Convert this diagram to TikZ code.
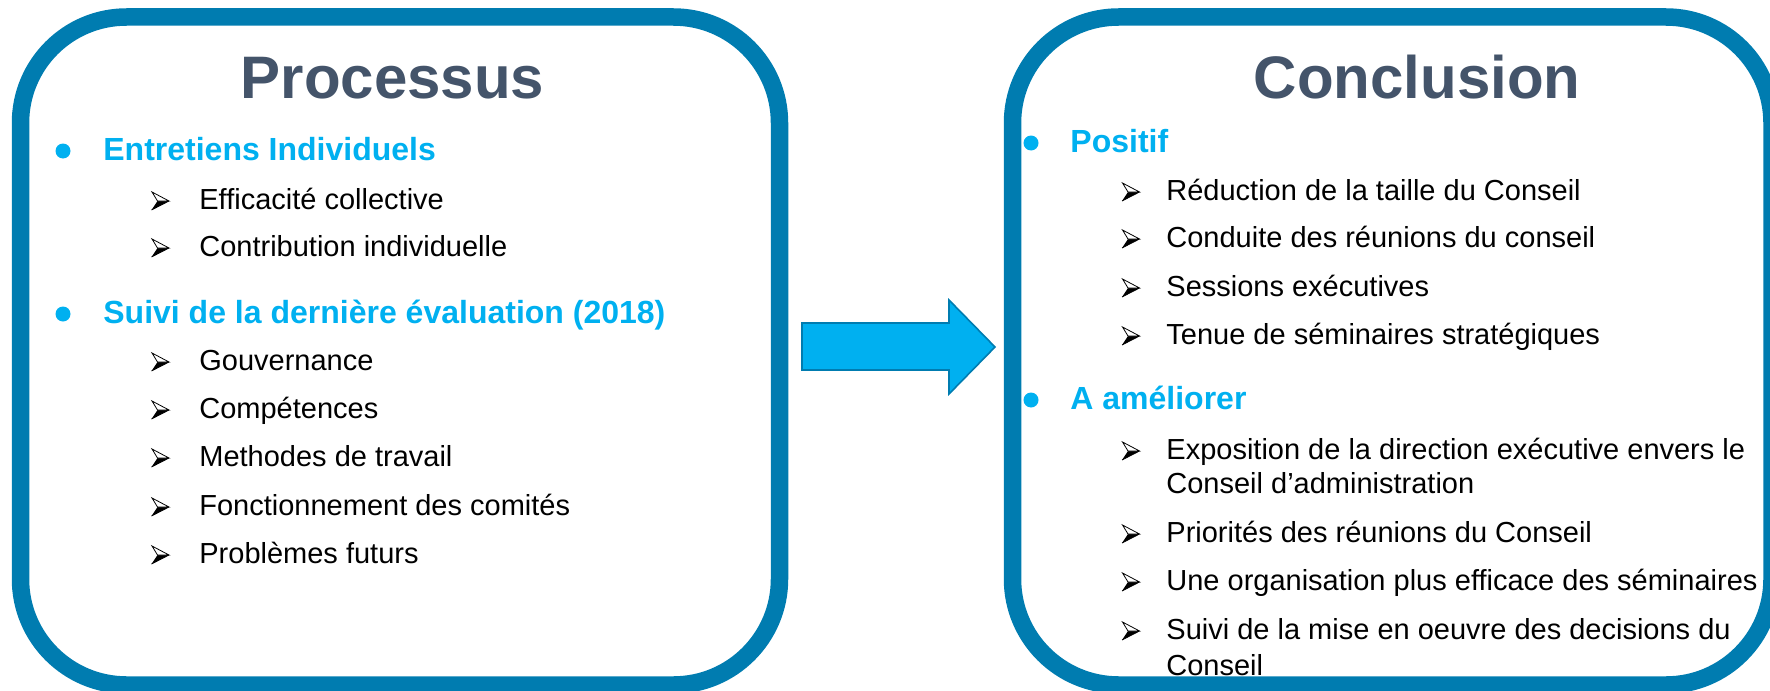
\documentclass[tikz,border=0pt]{standalone}
\usepackage{fontspec}
\setmainfont{Liberation Sans}
\definecolor{boxblue}{RGB}{0,124,176}
\definecolor{cyanh}{RGB}{0,176,240}
\definecolor{titlec}{RGB}{68,84,106}
\begin{document}
\begin{tikzpicture}[x=0.5pt,y=-0.5pt,
  frame/.style={draw=boxblue,line width=8.75pt,rounded corners=53pt},
  ttl/.style={font=\fontsize{30}{36}\selectfont\bfseries, text=titlec, inner sep=0pt, anchor=base},
  hd/.style={font=\fontsize{16}{19}\selectfont\bfseries, text=cyanh, inner sep=0pt, anchor=base west},
  it/.style={font=\fontsize{14.5}{17}\selectfont, text=black, inner sep=0pt, anchor=base west},
  dot/.style={circle, fill=cyanh, minimum size=7.5pt, inner sep=0pt},
  dart/.pic={
    \fill[black] (-3,0) -- (8.5,0) -- (-9,9) -- cycle;
    \draw[black, line width=0.4pt, fill=white, line join=miter] (-8.5,-9) -- (8.5,0) -- (-3,0) -- cycle;
    \draw[black, line width=0.4pt] (-9,9) -- (8.5,0);
  }
]
\useasboundingbox (0,0) rectangle (1770,690);
\clip (0,0) rectangle (1770,690);

% frames
\draw[frame] (20.5,17) rectangle (779.5,685);
\draw[frame] (1012.5,17) rectangle (1772,685);

% block arrow
\draw[fill=cyanh, draw=boxblue, line width=0.8pt, line join=miter]
  (802,323) -- (949,323) -- (949,300) -- (995,347) -- (949,394) -- (949,370) -- (802,370) -- cycle;

% titles
\node[ttl] (t1) at (392.5,98) {Processus};
\node[ttl] (t2) at (1417,98) {Conclusion};

% left list
\node[dot] (lb1) at (63,151) {};
\node[hd] (lh1) at (103,160) {Entretiens Individuels};
\pic at (160.5,201) {dart};
\node[it] (li1) at (199,209) {Efficacité collective};
\pic at (160.5,248) {dart};
\node[it] (li2) at (199,256) {Contribution individuelle};
\node[dot] (lb2) at (63,314) {};
\node[hd] (lh2) at (103,323) {Suivi de la dernière évaluation (2018)};
\pic at (160.5,362) {dart};
\node[it] (li3) at (199,370) {Gouvernance};
\pic at (160.5,410) {dart};
\node[it] (li4) at (199,418) {Compétences};
\pic at (160.5,458) {dart};
\node[it] (li5) at (199,466) {Methodes de travail};
\pic at (160.5,507) {dart};
\node[it] (li6) at (199,515) {Fonctionnement des comités};
\pic at (160.5,555) {dart};
\node[it] (li7) at (199,563) {Problèmes futurs};

% right list
\node[dot] (rb1) at (1031,143) {};
\node[hd] (rh1) at (1070,152) {Positif};
\pic at (1131,192) {dart};
\node[it] (ri1) at (1166,200) {Réduction de la taille du Conseil};
\pic at (1131,239) {dart};
\node[it] (ri2) at (1166,247) {Conduite des réunions du conseil};
\pic at (1131,288) {dart};
\node[it] (ri3) at (1166,296) {Sessions exécutives};
\pic at (1131,336) {dart};
\node[it] (ri4) at (1166,344) {Tenue de séminaires stratégiques};
\node[dot] (rb2) at (1031,400) {};
\node[hd] (rh2) at (1070,409) {A améliorer};
\pic at (1131,451) {dart};
\node[it] (ri5) at (1166,459) {Exposition de la direction exécutive envers le};
\node[it] (ri5b) at (1166,493) {Conseil d’administration};
\pic at (1131,534) {dart};
\node[it] (ri6) at (1166,542) {Priorités des réunions du Conseil};
\pic at (1131,582) {dart};
\node[it] (ri7) at (1166,590) {Une organisation plus efficace des séminaires};
\pic at (1131,631) {dart};
\node[it] (ri8) at (1166,639) {Suivi de la mise en oeuvre des decisions du};
\node[it] (ri8b) at (1166,675) {Conseil};
\end{tikzpicture}
\end{document}
